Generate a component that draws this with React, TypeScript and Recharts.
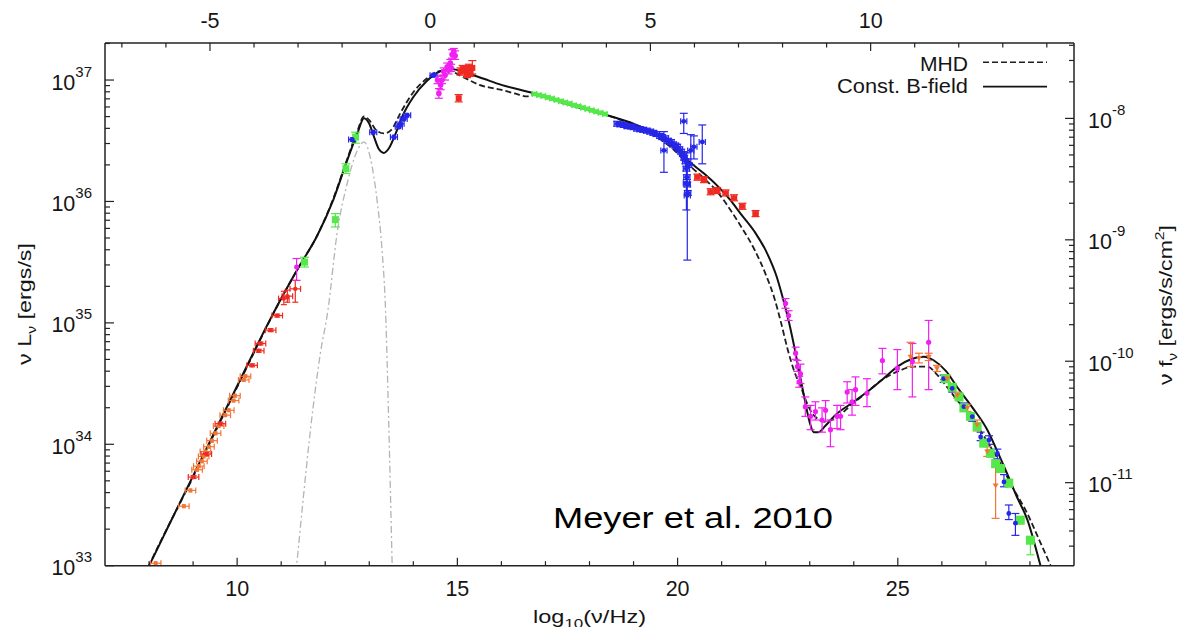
import React from "react";
import { ComposedChart, Line, Scatter, XAxis, YAxis, ErrorBar } from "recharts";

const FONT = '"Liberation Sans", Arial, Helvetica, sans-serif';
const INK = "#151515";
const AXIS = "#222";
const W = 1178;
const H = 619;

// ---- axes ----
const xDomain: [number, number] = [7, 29]; // log10(nu/Hz)
const eVOffset = 14.383; // log10(nu/Hz) of a 1 eV photon (top axis)
const topDomain: [number, number] = [xDomain[0] - eVOffset, xDomain[1] - eVOffset];
const lumLogRange: [number, number] = [33, 37.305]; // log10 nuLnu [erg/s]
const fluxShiftLog = -44.684; // log10(nu f_nu / nu L_nu)
const bottomTicks = [8, 9, 10, 11, 12, 13, 14, 15, 16, 17, 18, 19, 20, 21, 22, 23, 24, 25, 26, 27, 28];
const bottomLabels = [10, 15, 20, 25];
const topTicks = [-7, -6, -5, -4, -3, -2, -1, 0, 1, 2, 3, 4, 5, 6, 7, 8, 9, 10, 11, 12, 13, 14];
const topLabels = [-5, 0, 5, 10];
const leftDecades = [33, 34, 35, 36, 37];
const rightDecades = [-12, -11, -10, -9, -8];
const mantissas = [1, 2, 3, 4, 5, 6, 7, 8, 9];

// ---- model curves: [log10 nu, log10 nuLnu] ----
const constBField: number[][] = [
  [7.9, 32.93], [8.0, 33.0], [8.5, 33.37], [9.0, 33.74], [9.5, 34.11], [10.0, 34.48], [10.5, 34.85],
  [11.0, 35.2], [11.4, 35.46], [11.82, 35.72], [12.19, 36.02], [12.5, 36.34], [12.73, 36.56],
  [12.88, 36.685], [13.0, 36.64], [13.1, 36.54], [13.22, 36.43], [13.33, 36.4], [13.45, 36.44],
  [13.6, 36.56], [13.75, 36.7], [14.0, 36.86], [14.3, 36.99], [14.6, 37.07], [14.85, 37.09],
  [15.2, 37.06], [15.6, 37.01], [16.0, 36.96], [16.74, 36.89], [17.5, 36.8], [18.4, 36.71],
  [19.0, 36.64], [19.45, 36.565], [19.9, 36.45], [20.29, 36.32], [20.6, 36.23], [20.9, 36.13],
  [21.2, 36.01], [21.43, 35.9], [21.75, 35.75], [22.03, 35.575], [22.25, 35.38], [22.4, 35.19],
  [22.52, 35.02], [22.64, 34.82], [22.76, 34.6], [22.88, 34.38], [23.0, 34.18], [23.09, 34.1],
  [23.2, 34.1], [23.35, 34.15], [23.55, 34.23], [24.0, 34.35], [24.3, 34.43], [24.7, 34.55],
  [24.99, 34.64], [25.3, 34.7], [25.59, 34.72], [25.82, 34.69], [26.1, 34.6], [26.35, 34.47],
  [26.7, 34.3], [27.03, 34.12], [27.25, 33.95], [27.48, 33.76], [27.7, 33.57], [27.94, 33.38],
  [28.24, 33.0], [28.3, 32.92],
];
const mhdModel: number[][] = [
  [7.9, 32.92], [8.0, 33.0], [9.0, 33.73], [10.0, 34.47], [11.0, 35.2], [11.4, 35.46], [11.82, 35.72],
  [12.19, 36.03], [12.5, 36.35], [12.73, 36.58], [12.88, 36.7], [13.0, 36.67], [13.15, 36.59],
  [13.33, 36.56], [13.5, 36.59], [13.71, 36.73], [14.0, 36.9], [14.3, 37.01], [14.55, 37.07],
  [14.77, 37.08], [15.1, 37.03], [15.5, 36.96], [15.98, 36.92], [16.3, 36.89], [16.58, 36.865],
  [16.74, 36.88], [17.5, 36.8], [18.4, 36.71], [19.0, 36.63], [19.45, 36.55], [19.9, 36.43],
  [20.29, 36.29], [20.6, 36.19], [20.9, 36.08], [21.2, 35.93], [21.43, 35.8], [21.75, 35.6],
  [22.0, 35.4], [22.2, 35.2], [22.35, 35.0], [22.5, 34.78], [22.65, 34.6], [22.8, 34.47],
  [23.0, 34.29], [23.09, 34.24], [23.36, 34.185], [23.6, 34.22], [23.93, 34.32], [24.3, 34.43],
  [24.68, 34.54], [25.0, 34.6], [25.36, 34.64], [25.67, 34.64], [25.9, 34.57], [26.12, 34.47],
  [26.4, 34.34], [26.72, 34.2], [27.0, 34.04], [27.33, 33.84], [27.6, 33.65], [27.94, 33.43],
  [28.2, 33.22], [28.47, 33.0], [28.55, 32.93],
];
const dustBump: number[][] = [
  [11.3, 32.82], [11.35, 33.0], [11.5, 33.55], [11.665, 34.12], [11.89, 34.75], [12.06, 35.1],
  [12.27, 35.74], [12.5, 36.15], [12.73, 36.42], [12.88, 36.49], [13.03, 36.35], [13.18, 36.0],
  [13.29, 35.6], [13.37, 35.1], [13.44, 34.2], [13.52, 33.0], [13.54, 32.7],
];

// ---- measurements: [log10 nu, log10 nuLnu, (log10 lower), (log10 upper)] ----
const radioOrange: number[][] = [
  [8.15, 33.02], [8.79, 33.49], [8.94, 33.62], [9.09, 33.79], [9.13, 33.82], [9.2, 33.86],
  [9.24, 33.9], [9.28, 33.94], [9.36, 33.98], [9.43, 34.03], [9.51, 34.09], [9.58, 34.15],
  [9.73, 34.24], [9.81, 34.28], [9.92, 34.36], [9.95, 34.4], [10.15, 34.53], [10.19, 34.56],
];
const radioRed: number[][] = [
  [9.01, 33.73], [9.3, 33.92], [9.62, 34.17], [10.34, 34.65], [10.49, 34.77], [10.53, 34.83],
  [10.76, 34.94], [10.91, 35.06], [11.06, 35.2, 35.15, 35.26], [11.14, 35.22, 35.17, 35.27],
  [11.32, 35.28, 35.17, 35.35],
];
const magentaRadio: number[][] = [[11.35, 35.46, 35.35, 35.53]];
const greenIR: number[][] = [
  [11.53, 35.5, 35.46, 35.54], [12.23, 35.85, 35.79, 35.9], [12.47, 36.27, 36.23, 36.31],
  [12.69, 36.53, 36.48, 36.57],
];
const blueIR: number[][] = [
  [12.61, 36.51], [13.09, 36.57], [13.56, 36.53], [13.67, 36.615], [13.71, 36.64], [13.78, 36.68],
  [13.86, 36.71], [14.46, 37.04],
];
const magentaOptical: number[][] = [
  [14.55, 37.0, 36.97, 37.03], [14.58, 36.89, 36.85, 36.93], [14.62, 36.96, 36.92, 37.0],
  [14.65, 37.0, 36.97, 37.04], [14.69, 37.07, 37.04, 37.1], [14.72, 37.04, 37.0, 37.08],
  [14.77, 37.11, 37.08, 37.14], [14.8, 37.08, 37.05, 37.11], [14.84, 37.14, 37.1, 37.17],
  [14.86, 37.1, 37.07, 37.13], [14.88, 37.21, 37.18, 37.25], [14.92, 37.23, 37.2, 37.26],
  [14.95, 37.2, 37.17, 37.24],
];
const redOptical: number[][] = [
  [15.03, 36.85, 36.82, 36.88], [15.07, 37.07, 37.04, 37.1], [15.12, 37.09, 37.06, 37.12],
  [15.18, 37.08, 37.05, 37.11], [15.22, 37.05, 37.02, 37.08], [15.26, 37.1, 37.07, 37.13],
  [15.3, 37.055, 37.03, 37.08], [15.34, 37.1, 37.05, 37.16],
];
const greenUV: number[][] = [
  [16.75, 36.885], [16.85, 36.876], [16.95, 36.868], [17.05, 36.857], [17.15, 36.847],
  [17.25, 36.836], [17.35, 36.826], [17.45, 36.815], [17.55, 36.806], [17.65, 36.793],
  [17.75, 36.785], [17.85, 36.772], [17.95, 36.762], [18.05, 36.751], [18.15, 36.74],
  [18.25, 36.73], [18.35, 36.72],
];
const blueXray: number[][] = [
  [18.63, 36.64], [18.7, 36.635], [18.78, 36.63], [18.86, 36.62], [18.94, 36.618], [19.0, 36.612],
  [19.08, 36.6], [19.15, 36.595], [19.22, 36.59], [19.3, 36.583], [19.38, 36.575], [19.45, 36.565],
  [19.52, 36.555], [19.6, 36.54], [19.65, 36.53], [19.72, 36.52], [19.78, 36.5], [19.85, 36.49],
  [19.9, 36.47], [19.95, 36.46], [19.99, 36.45], [20.04, 36.43], [20.08, 36.41], [20.12, 36.39],
  [20.15, 36.36], [20.18, 36.33], [20.2, 36.27], [20.21, 36.2], [20.22, 36.14], [20.23, 36.07],
  [20.25, 36.3], [19.69, 36.42, 36.24, 36.575], [20.14, 36.66, 36.56, 36.726],
  [20.22, 36.05, 35.517, 36.35], [20.2, 36.15, 35.93, 36.4], [20.37, 36.45, 36.35, 36.54],
  [20.56, 36.49, 36.31, 36.63], [20.3, 36.42, 36.3, 36.55],
];
const redHardX: number[][] = [
  [20.45, 36.2], [20.6, 36.18], [20.75, 36.08], [20.9, 36.09], [21.09, 36.07], [21.28, 36.03],
  [21.47, 35.96], [21.77, 35.9],
];
const magentaGamma: number[][] = [
  [22.45, 35.16, 35.12, 35.2], [22.52, 35.06, 35.02, 35.1], [22.68, 34.75, 34.7, 34.8],
  [22.72, 34.64, 34.6, 34.69], [22.76, 34.515, 34.47, 34.56], [22.79, 34.58, 34.5, 34.66],
  [22.9, 34.31, 34.23, 34.39], [23.02, 34.23, 34.12, 34.32], [23.13, 34.27, 34.2, 34.35],
  [23.28, 34.2, 34.1, 34.3], [23.36, 34.28, 34.19, 34.36], [23.47, 34.12, 33.98, 34.2],
  [23.62, 34.23, 34.13, 34.32], [23.7, 34.23, 34.12, 34.32], [23.85, 34.43, 34.34, 34.515],
  [23.96, 34.35, 34.24, 34.45], [24.04, 34.45, 34.32, 34.555], [24.3, 34.42, 34.31, 34.54],
  [24.65, 34.69, 34.58, 34.79], [24.99, 34.625, 34.45, 34.78], [25.33, 34.68, 34.39, 34.83],
  [25.7, 34.84, 34.45, 35.02],
];
const orangeGamma: number[][] = [
  [25.29, 34.72, 34.64, 34.84], [25.48, 34.71, 34.67, 34.75], [25.7, 34.72, 34.69, 34.75],
  [25.89, 34.625, 34.6, 34.65], [26.12, 34.54, 34.51, 34.57], [26.35, 34.405, 34.38, 34.43],
  [26.58, 34.3, 34.27, 34.33], [26.8, 34.16, 34.11, 34.2], [27.03, 33.94, 33.9, 33.98],
  [27.22, 33.66, 33.39, 33.815],
];
const greenGamma: number[][] = [
  [26.08, 34.54], [26.235, 34.47], [26.39, 34.39], [26.5, 34.3], [26.65, 34.23], [26.8, 34.145],
  [26.95, 34.01], [27.1, 33.925], [27.22, 33.84], [27.33, 33.8], [27.52, 33.68], [27.78, 33.375],
  [28.01, 33.21, 33.09, 33.24],
];
const blueGamma: number[][] = [
  [26.04, 34.54, 34.51, 34.57], [26.235, 34.46, 34.43, 34.49], [26.5, 34.31, 34.28, 34.34],
  [26.69, 34.227, 34.19, 34.26], [26.88, 34.06, 34.03, 34.1], [27.07, 34.035, 34.0, 34.07],
  [27.26, 33.925, 33.88, 33.96], [27.41, 33.69, 33.65, 33.75], [27.52, 33.43, 33.38, 33.5],
  [27.67, 33.35, 33.25, 33.43],
];

const RED = "#ee2a22";
const ORANGE = "#f37536";
const MAGENTA = "#f020f0";
const GREEN = "#55e84a";
const BLUE = "#2626e8";
const GRAY = "#b4b4b4";

// ---- helpers ----
const curveRows = (pts: number[][]) => pts.map(([x, l]) => ({ x, y: Math.pow(10, l) }));
const pointRows = (pts: number[][], errDex: number, xErr: number) =>
  pts.map((p) => {
    const [x, l] = p;
    const lo = p.length > 2 ? p[2] : l - errDex;
    const hi = p.length > 3 ? p[3] : l + errDex;
    const y = Math.pow(10, l);
    return { x, y, ey: [y - Math.pow(10, lo), Math.pow(10, hi) - y], ex: xErr };
  });

const isDecade = (v: number) => Math.abs(Math.log10(v) - Math.round(Math.log10(v))) < 1e-9;
const logTicks = (decades: number[], lo: number, hi: number) =>
  decades
    .flatMap((n) => mantissas.map((k) => k * Math.pow(10, n)))
    .filter((v) => v >= lo * 0.999999 && v <= hi * 1.000001);

const leftDomain: [number, number] = [Math.pow(10, lumLogRange[0]), Math.pow(10, lumLogRange[1])];
const rightDomain: [number, number] = [
  Math.pow(10, lumLogRange[0] + fluxShiftLog),
  Math.pow(10, lumLogRange[1] + fluxShiftLog),
];
const leftTicks = logTicks(leftDecades, leftDomain[0], leftDomain[1]);
const rightTicks = logTicks(rightDecades, rightDomain[0], rightDomain[1]);
// invisible anchor rows so the top (eV) axis owns a series spanning its range
const topAnchorRows = [
  { x: topDomain[0], y: leftDomain[0] },
  { x: topDomain[1], y: leftDomain[1] },
];

const textBase = { fontFamily: FONT, fill: INK };

const BottomTick = (p: any) => {
  const v = p.payload.value;
  const major = v % 5 === 0;
  return (
    <g>
      <line x1={p.x} x2={p.x} y1={p.y} y2={p.y - (major ? 8 : 4.5)} stroke={AXIS} strokeWidth={1.2} />
      {bottomLabels.includes(v) && (
        <text x={p.x} y={p.y + 30} textAnchor="middle" fontSize={21.5} {...textBase}>
          {v}
        </text>
      )}
    </g>
  );
};
const TopTick = (p: any) => {
  const v = Math.round(p.payload.value);
  const major = v % 5 === 0;
  return (
    <g>
      <line x1={p.x} x2={p.x} y1={p.y} y2={p.y + (major ? 8 : 4.5)} stroke={AXIS} strokeWidth={1.2} />
      {topLabels.includes(v) && (
        <text x={p.x} y={p.y - 15} textAnchor="middle" fontSize={21.5} {...textBase}>
          {String(v)}
        </text>
      )}
    </g>
  );
};
const LeftTick = (p: any) => {
  const v = p.payload.value;
  const major = isDecade(v);
  return (
    <g>
      <line x1={p.x} x2={p.x + (major ? 9 : 5)} y1={p.y} y2={p.y} stroke={AXIS} strokeWidth={1.2} />
      {major && (
        <text x={p.x - 13} y={p.y + 9.5} textAnchor="end" fontSize={21.5} {...textBase}>
          10
          <tspan dy={-13} fontSize={15}>
            {Math.round(Math.log10(v))}
          </tspan>
        </text>
      )}
    </g>
  );
};
const RightTick = (p: any) => {
  const v = p.payload.value;
  const major = isDecade(v);
  return (
    <g>
      <line x1={p.x} x2={p.x - (major ? 9 : 5)} y1={p.y} y2={p.y} stroke={AXIS} strokeWidth={1.2} />
      {major && (
        <text x={p.x + 14} y={p.y + 9.5} textAnchor="start" fontSize={21.5} {...textBase}>
          10
          <tspan dy={-13} fontSize={15}>
            {String(Math.round(Math.log10(v)))}
          </tspan>
        </text>
      )}
    </g>
  );
};

const circle = (r: number, c: string) => (p: any) => <circle cx={p.cx} cy={p.cy} r={r} fill={c} />;
const square = (s: number, c: string) => (p: any) => (
  <rect x={p.cx - s / 2} y={p.cy - s / 2} width={s} height={s} fill={c} />
);
const triDown = (s: number, c: string) => (p: any) => (
  <path
    d={`M${p.cx - s / 2},${p.cy - s * 0.35} L${p.cx + s / 2},${p.cy - s * 0.35} L${p.cx},${p.cy + s * 0.5} Z`}
    fill={c}
  />
);
const nothing = () => <g />;

type Group = {
  key: string;
  pts: number[][];
  color: string;
  shape: (p: any) => React.ReactElement;
  errDex: number;
  xErr: number;
  capY: number;
};
const groups: Group[] = [
  { key: "radioOrange", pts: radioOrange, color: ORANGE, shape: circle(2, ORANGE), errDex: 0.012, xErr: 0.12, capY: 2 },
  { key: "radioRed", pts: radioRed, color: RED, shape: circle(2.2, RED), errDex: 0.012, xErr: 0.12, capY: 3 },
  { key: "magentaRadio", pts: magentaRadio, color: MAGENTA, shape: circle(2.5, MAGENTA), errDex: 0.03, xErr: 0, capY: 4 },
  { key: "greenIR", pts: greenIR, color: GREEN, shape: square(7, GREEN), errDex: 0.03, xErr: 0, capY: 4.5 },
  { key: "blueIR", pts: blueIR, color: BLUE, shape: circle(2.6, BLUE), errDex: 0.015, xErr: 0.08, capY: 2 },
  { key: "magentaOptical", pts: magentaOptical, color: MAGENTA, shape: circle(2.8, MAGENTA), errDex: 0.03, xErr: 0, capY: 4 },
  { key: "redOptical", pts: redOptical, color: RED, shape: square(6, RED), errDex: 0.03, xErr: 0, capY: 4 },
  { key: "greenUV", pts: greenUV, color: GREEN, shape: square(4.5, GREEN), errDex: 0.012, xErr: 0.05, capY: 3 },
  { key: "blueXray", pts: blueXray, color: BLUE, shape: circle(2.4, BLUE), errDex: 0.02, xErr: 0.07, capY: 4 },
  { key: "redHardX", pts: redHardX, color: RED, shape: square(5, RED), errDex: 0.025, xErr: 0.06, capY: 4 },
  { key: "greenGamma", pts: greenGamma, color: GREEN, shape: square(9, GREEN), errDex: 0.03, xErr: 0, capY: 4 },
  { key: "magentaGamma", pts: magentaGamma, color: MAGENTA, shape: circle(2.6, MAGENTA), errDex: 0.04, xErr: 0, capY: 4 },
  { key: "blueGamma", pts: blueGamma, color: BLUE, shape: circle(2.4, BLUE), errDex: 0.03, xErr: 0, capY: 4 },
  { key: "orangeGamma", pts: orangeGamma, color: ORANGE, shape: triDown(6, ORANGE), errDex: 0.03, xErr: 0, capY: 4 },
];

const axisLine = { stroke: AXIS, strokeWidth: 1.5 };

export default function App() {
  return (
    <div style={{ position: "relative", width: W, height: H, background: "#fff" }}>
      <ComposedChart width={W} height={H} margin={{ top: 5, right: 22, bottom: 11.3, left: 17 }}>
        <XAxis
          xAxisId="bottom"
          dataKey="x"
          type="number"
          domain={xDomain}
          allowDataOverflow
          ticks={bottomTicks}
          interval={0}
          tickSize={0}
          tickMargin={0}
          tick={BottomTick}
          height={50}
          axisLine={axisLine}
        />
        <XAxis
          xAxisId="top"
          dataKey="x"
          orientation="top"
          type="number"
          domain={topDomain}
          allowDataOverflow
          ticks={topTicks}
          interval={0}
          tickSize={0}
          tickMargin={0}
          tick={TopTick}
          height={30}
          axisLine={axisLine}
        />
        <YAxis
          yAxisId="left"
          type="number"
          scale="log"
          domain={leftDomain}
          allowDataOverflow
          ticks={leftTicks}
          interval={0}
          tickSize={0}
          tickMargin={0}
          tick={LeftTick}
          width={80}
          axisLine={axisLine}
        />
        <YAxis
          yAxisId="right"
          orientation="right"
          type="number"
          scale="log"
          domain={rightDomain}
          allowDataOverflow
          ticks={rightTicks}
          interval={0}
          tickSize={0}
          tickMargin={0}
          tick={RightTick}
          width={90}
          axisLine={axisLine}
        />
        <Scatter
          xAxisId="top"
          yAxisId="left"
          data={topAnchorRows}
          dataKey="y"
          shape={nothing}
          isAnimationActive={false}
        />
        <Line
          xAxisId="bottom"
          yAxisId="left"
          data={curveRows(dustBump)}
          dataKey="y"
          type="monotone"
          stroke={GRAY}
          strokeWidth={1.3}
          strokeDasharray="7 3 2 3"
          dot={false}
          activeDot={false}
          isAnimationActive={false}
        />
        <Line
          xAxisId="bottom"
          yAxisId="left"
          data={curveRows(mhdModel)}
          dataKey="y"
          type="monotone"
          stroke="#1e1e1e"
          strokeWidth={1.8}
          strokeDasharray="6 3"
          dot={false}
          activeDot={false}
          isAnimationActive={false}
        />
        <Line
          xAxisId="bottom"
          yAxisId="left"
          data={curveRows(constBField)}
          dataKey="y"
          type="monotone"
          stroke="#111"
          strokeWidth={2}
          dot={false}
          activeDot={false}
          isAnimationActive={false}
        />
        {groups.map((g) => (
          <Scatter
            key={g.key}
            xAxisId="bottom"
            yAxisId="left"
            data={pointRows(g.pts, g.errDex, g.xErr)}
            dataKey="y"
            shape={g.shape}
            isAnimationActive={false}
          >
            <ErrorBar dataKey="ey" direction="y" width={g.capY} stroke={g.color} strokeWidth={1.2} isAnimationActive={false} />
            {g.xErr > 0 && (
              <ErrorBar dataKey="ex" direction="x" width={3} stroke={g.color} strokeWidth={1.2} isAnimationActive={false} />
            )}
          </Scatter>
        ))}
      </ComposedChart>
      <svg
        width={W}
        height={H + 8}
        style={{ position: "absolute", left: 0, top: 0, pointerEvents: "none", overflow: "visible" }}
      >
        <text x={581.5} y={615} textAnchor="middle" fontSize={18} textLength={113} lengthAdjust="spacingAndGlyphs" {...textBase}>
          log
          <tspan dy={5} fontSize={13}>10</tspan>
          <tspan dy={-5}>(ν/Hz)</tspan>
        </text>
        <text
          transform="translate(23,296) rotate(-90)"
          textAnchor="middle"
          fontSize={19}
          textLength={122}
          lengthAdjust="spacingAndGlyphs"
          {...textBase}
        >
          ν L
          <tspan dy={5} fontSize={13}>ν</tspan>
          <tspan dy={-5}> [ergs/s]</tspan>
        </text>
        <text
          transform="translate(1164,297) rotate(-90)"
          textAnchor="middle"
          fontSize={19}
          textLength={160}
          lengthAdjust="spacingAndGlyphs"
          {...textBase}
        >
          ν f
          <tspan dy={5} fontSize={13}>ν</tspan>
          <tspan dy={-5}> [ergs/s/cm</tspan>
          <tspan dy={-8} fontSize={13}>2</tspan>
          <tspan dy={8}>]</tspan>
        </text>
        <line x1={975} x2={1039} y1={54.3} y2={54.3} stroke="#1e1e1e" strokeWidth={1.5} strokeDasharray="6 3" />
        <text x={960} y={63} textAnchor="end" fontSize={20} textLength={48} lengthAdjust="spacingAndGlyphs" {...textBase}>
          MHD
        </text>
        <line x1={975} x2={1039} y1={78.7} y2={78.7} stroke="#111" strokeWidth={1.8} />
        <text x={960} y={84.7} textAnchor="end" fontSize={20} textLength={131} lengthAdjust="spacingAndGlyphs" {...textBase}>
          Const. B-field
        </text>
        <text x={545} y={520} fontSize={29} textLength={280} lengthAdjust="spacingAndGlyphs" fontFamily={FONT} fill="#000">
          Meyer et al. 2010
        </text>
      </svg>
    </div>
  );
}
